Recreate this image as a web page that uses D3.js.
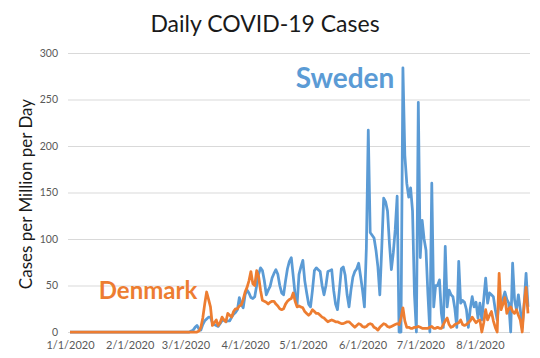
<!DOCTYPE html>
<html>
<head>
<meta charset="utf-8">
<script src="https://cdn.jsdelivr.net/npm/d3@7"></script>
<style>
  html, body { margin: 0; padding: 0; background: #fff; }
  svg { display: block; }
  text { font-family: Lato, "Open Sans", "Noto Sans", sans-serif; }
</style>
</head>
<body>
<svg id="chart" width="540" height="358"></svg>
<script>
// ---------- data ----------
const startDate = "2020-01-01";
const monthTicks = ["2020-01-01","2020-02-01","2020-03-01","2020-04-01","2020-05-01","2020-06-01","2020-07-01","2020-08-01"];
const yTicks = [0, 50, 100, 150, 200, 250, 300];

// daily cases per million, Jan 1 .. Aug 26 2020
const sweden = [
  0,0,0,0,0,0,0,0,0,0, 0,0,0,0,0,0,0,0,0,0, 0,0,0,0,0,0,0,0,0,0,
  0,0,0,0,0,0,0,0,0,0, 0,0,0,0,0,0,0,0,0,0, 0,0,0,0,0,0,0,0,0,0,
  0,0,0,1,2,5,7,3,2,8,
  12,14,16,16,10,8,7,6,9,12,
  13,11,12,12,16,19,21,24,37,30,
  26,40,45,42,37,36,38,50,62,69,
  66,55,40,45,49,58,63,67,62,50,
  42,40,55,68,76,80,60,40,29,62,
  70,77,55,42,30,27,45,66,69,67,
  65,50,40,50,65,66,67,45,30,24,
  45,68,70,61,40,27,45,59,65,68,
  74,60,45,27,90,217,107,104,101,88,
  70,40,90,144,140,130,95,67,85,110,
  146,0,0,284,190,160,145,155,130,40,
  0,247,80,120,100,88,40,0,160,27,
  50,50,56,20,5,92,27,45,40,38,
  25,5,76,31,34,32,24,5,25,38,
  27,32,15,31,13,35,58,31,42,40,
  38,24,13,34,32,36,43,35,31,0,
  74,35,24,40,24,5,30,63,27
];
const denmark = [
  0,0,0,0,0,0,0,0,0,0, 0,0,0,0,0,0,0,0,0,0, 0,0,0,0,0,0,0,0,0,0,
  0,0,0,0,0,0,0,0,0,0, 0,0,0,0,0,0,0,0,0,0, 0,0,0,0,0,0,0,0,0,0,
  0,0,0,0,0,0,0,1,5,15,
  30,43,35,27,7,10,13,7,10,16,
  13,11,20,18,16,22,25,25,28,29,
  35,43,48,55,65,52,50,66,60,45,
  34,33,32,30,32,33,33,30,28,25,
  24,25,30,33,35,36,42,33,27,28,
  27,26,22,20,18,20,24,22,20,20,
  18,16,15,13,11,12,13,12,11,11,
  10,9,9,10,11,11,9,7,5,7,
  9,8,6,5,6,8,9,8,5,4,
  2,5,7,9,8,6,5,6,7,8,
  9,8,15,26,12,5,5,4,4,5,
  5,6,5,4,4,4,4,5,6,4,
  4,5,4,4,8,12,15,8,5,6,
  8,9,10,13,8,7,8,10,12,16,
  13,10,12,13,0,10,24,13,18,22,
  12,5,0,63,24,30,37,20,25,27,
  22,20,24,18,13,0,30,48,20
];
const seriesNames = ["Sweden", "Denmark"];
const seriesColors = ["#5b9bd5", "#ed7d31"];

// ---------- chart ----------
const svg = d3.select("#chart");
const parse = d3.utcParse("%Y-%m-%d");
const t0 = parse(startDate);
const dates = sweden.map((_, i) => d3.utcDay.offset(t0, i));

const margin = { left: 68, right: 10, top: 53, bottom: 26 };

const x = d3.scaleUtc()
  .domain([t0, dates[dates.length - 1]])
  .range([70, 528]);
const y = d3.scaleLinear()
  .domain([0, 300])
  .range([332, 53]);

// gridlines + y labels
const yAxis = d3.axisLeft(y)
  .tickValues(yTicks)
  .tickSize(-(530 - margin.left))
  .tickPadding(10)
  .tickFormat(d3.format("d"));
const gy = svg.append("g")
  .attr("transform", `translate(${margin.left},0)`)
  .call(yAxis);
gy.select(".domain").remove();
gy.selectAll(".tick line").attr("stroke", "#d9d9d9").attr("stroke-width", 1);
gy.selectAll(".tick text")
  .attr("fill", "#595959")
  .style("font-size", "10.5px");

// x labels
const xAxis = d3.axisBottom(x)
  .tickValues(monthTicks.map(parse))
  .tickSize(0)
  .tickPadding(9)
  .tickFormat(d3.utcFormat("%-m/%-d/%Y"));
const gx = svg.append("g")
  .attr("transform", `translate(0,332)`)
  .call(xAxis);
gx.select(".domain").remove();
gx.selectAll(".tick text")
  .attr("fill", "#595959")
  .style("font-size", "11px");

// lines
const line = d3.line()
  .x((d, i) => x(dates[i]))
  .y(d => y(d));
[sweden, denmark].forEach((s, k) => {
  svg.append("path")
    .datum(s)
    .attr("fill", "none")
    .attr("stroke", seriesColors[k])
    .attr("stroke-width", 2.75)
    .attr("stroke-linejoin", "round")
    .attr("d", line);
});

// title
svg.append("text")
  .attr("x", 265).attr("y", 32)
  .attr("text-anchor", "middle")
  .attr("fill", "#1a1a1a")
  .style("font-size", "23px")
  .text("Daily COVID-19 Cases");

// y axis title
svg.append("text")
  .attr("transform", "translate(32,194) rotate(-90)")
  .attr("text-anchor", "middle")
  .attr("fill", "#1a1a1a")
  .style("font-size", "17px")
  .text("Cases per Million per Day");

// series labels
svg.append("text")
  .attr("x", 345).attr("y", 88)
  .attr("text-anchor", "middle")
  .attr("fill", seriesColors[0])
  .style("font-size", "28px")
  .style("font-weight", "bold")
  .text(seriesNames[0]);
svg.append("text")
  .attr("x", 148).attr("y", 299)
  .attr("text-anchor", "middle")
  .attr("fill", seriesColors[1])
  .style("font-size", "24px")
  .style("font-weight", "bold")
  .text(seriesNames[1]);
</script>
</body>
</html>
